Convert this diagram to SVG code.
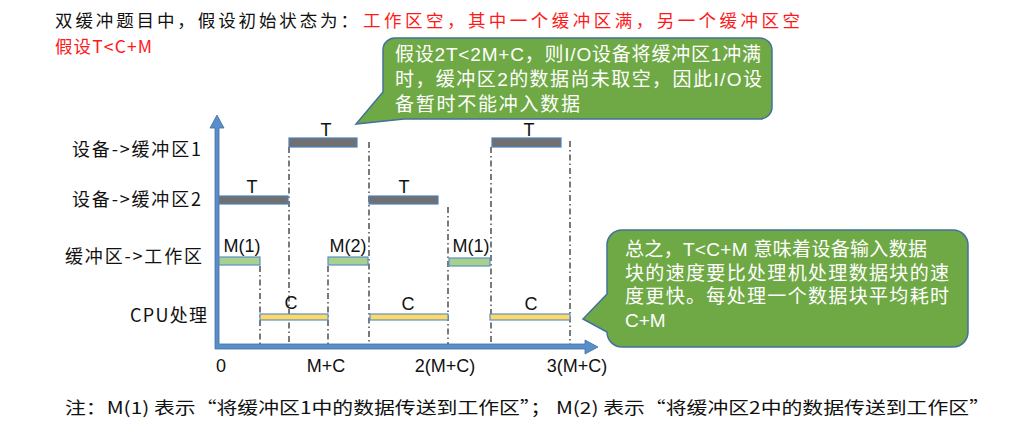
<svg xmlns="http://www.w3.org/2000/svg" width="1026" height="428" viewBox="0 0 1026 428">
<style>
.cn{font-family:"Noto Sans CJK SC","Noto Sans",sans-serif;}
.lab{font-family:"Noto Sans CJK SC","Liberation Sans",sans-serif;font-size:18px;fill:#111;}
.lt{font-family:"Liberation Sans","Noto Sans",sans-serif;font-size:18px;fill:#111;text-anchor:middle;}
.wt{font-family:"Liberation Sans","Noto Sans CJK SC",sans-serif;font-size:19px;fill:#fff;}
.gray{fill:#707070;stroke:#4f81bd;stroke-width:1.2;}
.green{fill:#a9d18e;stroke:#5b8fc9;stroke-width:1.2;}
.yellow{fill:#ffd966;stroke:#5b8fc9;stroke-width:1.2;}
.guide{stroke:#222;stroke-width:1.2;stroke-dasharray:6 3 1.5 3;fill:none;}
.bubble{fill:#6fa945;stroke:#41719c;stroke-width:1.5;}
.axis{fill:#5a8dcb;stroke:#41719c;stroke-width:0.8;}
</style>

<g id="title">
<text class="cn" x="55" y="27" font-size="17.5" fill="#111" textLength="303" lengthAdjust="spacing">双缓冲题目中，假设初始状态为：</text>
<text class="cn" x="363" y="27" font-size="17.5" fill="#ff1a1a" textLength="437" lengthAdjust="spacing">工作区空，其中一个缓冲区满，另一个缓冲区空</text>
<text class="cn" x="55" y="53" font-size="17.5" fill="#ff1a1a" textLength="97" lengthAdjust="spacing">假设T&lt;C+M</text>
</g>

<g id="row-labels">
<text class="lab" x="72" y="156" textLength="129" lengthAdjust="spacing">设备-&gt;缓冲区1</text>
<text class="lab" x="72" y="206" textLength="129" lengthAdjust="spacing">设备-&gt;缓冲区2</text>
<text class="lab" x="65" y="263" textLength="137" lengthAdjust="spacing">缓冲区-&gt;工作区</text>
<text class="lab" x="130" y="322" textLength="77" lengthAdjust="spacing">CPU处理</text>
</g>

<g id="connectors">
<line class="guide" x1="260" y1="266" x2="260" y2="346"/>
<line class="guide" x1="289" y1="147" x2="289" y2="346"/>
<line class="guide" x1="328" y1="266" x2="328" y2="346"/>
<line class="guide" x1="369" y1="142" x2="369" y2="346"/>
<line class="guide" x1="448" y1="207" x2="448" y2="346"/>
<line class="guide" x1="491" y1="147" x2="491" y2="346"/>
<line class="guide" x1="570" y1="141" x2="570" y2="346"/>
</g>

<g id="axes">
<polygon class="axis" points="215,349 215,128 210,128 217,115 224,128 219,128 219,344 585,344 585,340 598,347 585,354 585,349"/>
<text class="lt" x="221" y="372">0</text>
<text class="lt" x="326" y="372">M+C</text>
<text class="lt" x="445" y="372">2(M+C)</text>
<text class="lt" x="577" y="372">3(M+C)</text>
</g>

<g id="bars-device1">
<rect class="gray" x="289" y="138" width="68" height="9"/>
<text class="lt" x="326" y="136">T</text>
<rect class="gray" x="492" y="138" width="69" height="9"/>
<text class="lt" x="529" y="136">T</text>
</g>

<g id="bars-device2">
<rect class="gray" x="219" y="196" width="69" height="8"/>
<text class="lt" x="252" y="193">T</text>
<rect class="gray" x="369" y="196" width="69" height="8"/>
<text class="lt" x="404" y="193">T</text>
</g>

<g id="bars-buffer">
<rect class="green" x="219" y="257" width="41" height="8"/>
<text class="lt" x="242" y="252">M(1)</text>
<rect class="green" x="328" y="257" width="40" height="8"/>
<text class="lt" x="348" y="252">M(2)</text>
<rect class="green" x="449" y="258" width="41" height="8"/>
<text class="lt" x="471" y="252">M(1)</text>
</g>

<g id="bars-cpu">
<rect class="yellow" x="260" y="314" width="68" height="6"/>
<text class="lt" x="291" y="309">C</text>
<rect class="yellow" x="370" y="314" width="78" height="6"/>
<text class="lt" x="408" y="310">C</text>
<rect class="yellow" x="490" y="314" width="80" height="6"/>
<text class="lt" x="531" y="310">C</text>
</g>

<g id="callout-1">
<path class="bubble" d="M396,38 H760 A12,12 0 0 1 772,50 V107 A12,12 0 0 1 760,119 H404 L356,124 L383,92 V50 A12,12 0 0 1 396,38 Z"/>
<text class="wt" x="395" y="61" textLength="366" lengthAdjust="spacing">假设2T&lt;2M+C，则I/O设备将缓冲区1冲满</text>
<text class="wt" x="395" y="86" textLength="367" lengthAdjust="spacing">时，缓冲区2的数据尚未取空，因此I/O设</text>
<text class="wt" x="395" y="111" textLength="185" lengthAdjust="spacing">备暂时不能冲入数据</text>
</g>

<g id="callout-2">
<path class="bubble" d="M622,230 H953 A15,15 0 0 1 968,245 V332 A15,15 0 0 1 953,347 H622 A15,15 0 0 1 607,332 L583,319 L607,294 V245 A15,15 0 0 1 622,230 Z"/>
<text class="wt" x="625" y="256" textLength="302" lengthAdjust="spacing">总之，T&lt;C+M  意味着设备输入数据</text>
<text class="wt" x="625" y="280" textLength="324" lengthAdjust="spacing">块的速度要比处理机处理数据块的速</text>
<text class="wt" x="625" y="303" textLength="324" lengthAdjust="spacing">度更快。每处理一个数据块平均耗时</text>
<text class="wt" x="625" y="327">C+M</text>
</g>

<g id="note">
<text class="cn" x="65" y="414" font-size="17" fill="#111" textLength="925" lengthAdjust="spacingAndGlyphs">注：M(1) 表示“将缓冲区1中的数据传送到工作区”；  M(2) 表示“将缓冲区2中的数据传送到工作区”</text>
</g>
</svg>
